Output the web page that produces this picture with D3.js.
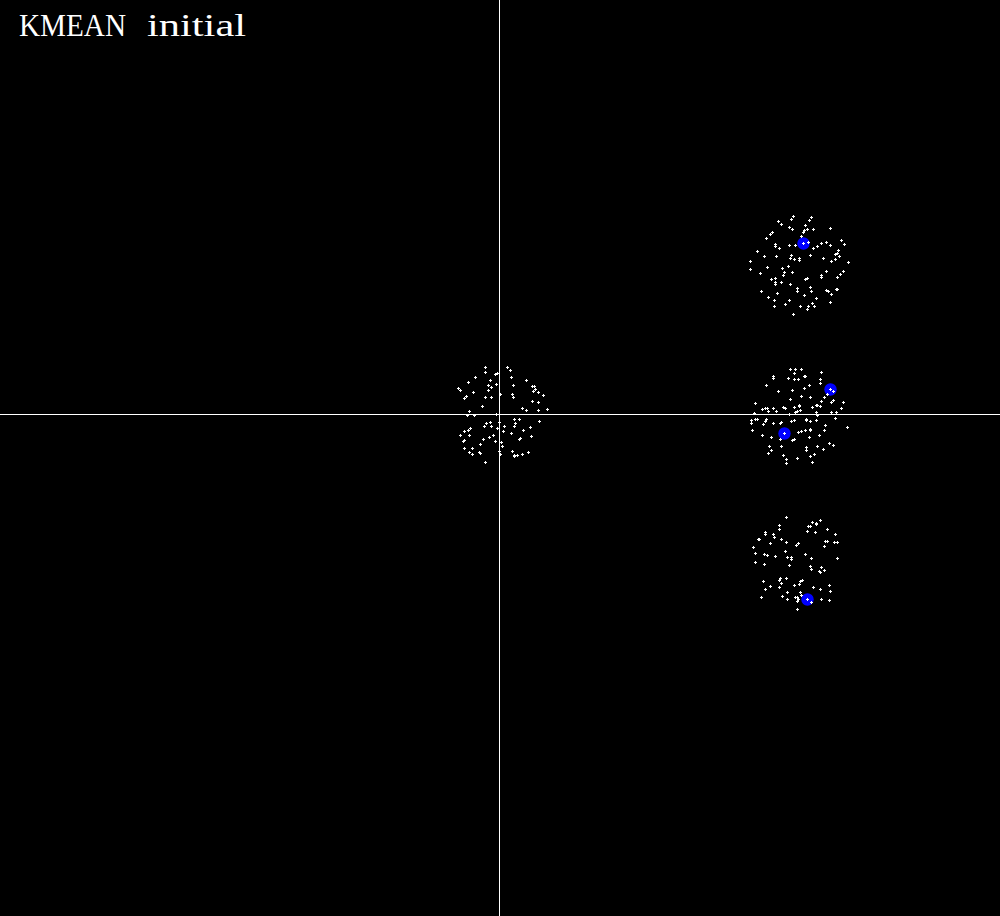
<!DOCTYPE html>
<html>
<head>
<meta charset="utf-8">
<script src="https://cdn.jsdelivr.net/npm/d3@7"></script>
<style>
html,body{margin:0;padding:0;background:#000;}
svg{display:block;}
</style>
</head>
<body>
<svg id="chart" width="1000" height="916"></svg>
<script>
// Data (units: 1 unit = 10 px in the original plot)
const clusterA = [
[-1.4,4.7],[0.8,4.7],[-1.4,4.2],[1.1,4.4],[-0.2,4.1],[-0.4,4.0],[-2.4,3.7],[1.2,3.7],[2.7,3.4],[-3.1,3.2],
[-0.9,3.4],[-1.1,2.9],[-0.3,3.0],[1.4,2.9],[3.3,2.8],[3.5,2.8],[-4.1,2.6],[-3.9,2.4],[-0.8,2.7],[-1.1,2.4],
[3.6,2.5],[3.4,2.3],[-2.6,2.2],[0.1,2.0],[1.3,2.0],[3.9,2.2],[-3.3,1.8],[-3.5,1.6],[-1.4,1.7],[-0.8,1.7],
[1.4,1.7],[4.4,1.9],[3.3,1.3],[3.9,1.2],[-1.7,0.8],[2.3,0.6],[2.7,0.4],[3.9,0.4],[4.8,0.5],[-3.0,0.3],
[-3.2,-0.1],[-2.5,-0.1],[-0.3,0.0],[1.5,-0.5],[2.0,-0.5],[4.0,-0.7],[-0.9,-0.8],[-1.3,-0.9],[1.6,-0.9],[0.0,-0.8],
[-1.5,-1.2],[-0.8,-1.2],[0.5,-1.2],[1.5,-1.2],[3.1,-1.3],[-2.9,-1.4],[-3.1,-1.6],[-0.2,-1.4],[2.4,-1.6],[-3.5,-1.7],
[0.4,-1.7],[1.2,-1.9],[-3.9,-2.1],[-3.0,-2.1],[-0.6,-2.1],[-1.0,-2.3],[3.2,-2.2],[-1.6,-2.5],[-3.5,-2.6],[-3.6,-2.7],
[2.1,-2.4],[2.0,-2.5],[-0.4,-2.7],[0.2,-2.8],[-1.9,-3.0],[0.3,-3.2],[-3.5,-3.4],[-2.7,-3.4],[-3.0,-3.8],[-2.7,-4.0],
[-2.0,-3.8],[-1.9,-3.9],[0.0,-3.7],[1.3,-3.7],[2.9,-3.8],[0.1,-4.0],[1.5,-4.1],[1.8,-4.1],[2.3,-4.0],[1.5,-4.2],
[-1.4,-4.8]
];
const clusterB = [
[29.4,19.8],[31.2,19.7],[27.9,19.3],[29.2,19.5],[31.0,19.4],[28.2,19.0],[30.6,18.9],[29.0,18.7],[29.3,18.5],[30.8,18.5],
[31.4,18.5],[33.1,18.6],[27.3,18.2],[27.1,18.0],[30.5,18.4],[30.4,18.2],[30.2,17.8],[26.7,17.6],[34.2,17.4],[34.5,17.0],
[27.6,17.0],[27.6,16.8],[28.0,16.6],[29.0,16.9],[29.6,16.9],[30.4,17.1],[30.9,17.2],[31.8,16.8],[32.2,17.1],[32.7,17.2],
[33.1,16.9],[31.4,16.6],[33.9,16.4],[25.8,16.3],[33.8,16.1],[33.6,16.0],[26.5,15.8],[27.7,15.8],[29.2,15.9],[29.1,15.6],
[29.5,15.5],[30.0,15.6],[30.0,15.4],[31.1,15.9],[34.0,15.8],[32.4,15.6],[33.6,15.5],[33.2,15.3],[34.9,15.2],[25.1,15.3],
[28.9,14.8],[26.8,14.7],[28.3,14.6],[25.1,14.5],[29.3,14.2],[28.5,14.2],[28.4,13.9],[26.1,14.1],[32.2,13.9],[32.2,13.7],
[32.7,14.3],[34.4,14.3],[34.1,14.0],[33.8,13.7],[27.2,13.5],[27.6,13.6],[30.6,13.5],[30.8,13.6],[27.6,13.2],[27.6,13.0],
[28.2,13.2],[29.1,13.0],[31.1,12.7],[29.8,12.6],[29.8,12.3],[31.2,12.3],[26.2,12.3],[27.8,12.1],[32.7,12.4],[32.9,12.3],
[33.7,12.5],[33.8,12.5],[30.5,11.9],[33.2,12.0],[26.9,11.7],[31.7,11.6],[29.0,11.4],[27.5,11.4],[33.1,11.2],[31.3,11.1],
[28.6,11.0],[30.1,10.8],[30.9,10.8],[31.5,10.8],[27.5,10.8],[30.8,10.5],[29.4,10.0]
];
const clusterC = [
[29.1,4.5],[29.6,4.5],[30.2,4.5],[29.5,4.1],[27.4,3.8],[27.4,3.6],[28.9,3.6],[29.5,3.5],[29.9,3.5],[32.2,4.2],
[32.1,3.5],[32.1,3.1],[26.7,2.9],[30.5,3.8],[30.6,3.8],[31.0,2.9],[30.5,2.6],[29.3,2.4],[27.9,2.3],[33.1,2.5],
[33.4,2.3],[32.8,2.0],[30.2,1.8],[31.1,1.7],[29.1,1.5],[32.5,1.7],[32.2,1.3],[33.4,1.4],[33.2,1.2],[34.4,1.2],
[25.6,1.1],[28.4,0.7],[28.6,0.6],[30.0,0.9],[30.0,0.8],[29.5,0.7],[31.7,0.9],[31.8,0.9],[31.3,0.7],[32.1,0.8],
[26.3,0.5],[26.6,0.6],[26.8,0.6],[26.9,0.3],[27.4,0.6],[27.7,0.3],[34.2,0.6],[25.5,0.1],[29.0,0.0],[29.6,0.2],
[29.8,0.3],[30.1,0.4],[31.7,0.2],[31.8,-0.1],[33.2,0.2],[33.7,0.2],[25.2,-0.6],[25.2,-0.9],[25.6,-0.5],[25.8,-0.5],
[26.7,-0.5],[26.6,-0.7],[26.4,-1.0],[27.4,-0.9],[28.1,-0.9],[28.2,-0.8],[29.2,-0.7],[29.5,-0.6],[30.7,-0.5],[30.7,-0.6],
[31.1,-0.7],[31.7,-0.6],[33.6,-0.4],[32.6,-1.1],[25.3,-1.6],[26.3,-2.1],[27.2,-2.3],[29.9,-1.8],[30.2,-1.7],[30.6,-1.6],
[31.1,-1.5],[31.1,-1.6],[32.5,-1.6],[32.0,-2.1],[31.0,-2.3],[34.8,-1.3],[28.1,-2.5],[28.5,-1.9],[29.3,-2.6],[29.5,-2.5],
[27.0,-3.2],[28.2,-3.2],[30.7,-3.3],[30.7,-3.6],[31.8,-3.2],[33.0,-2.9],[33.4,-3.1],[32.4,-3.5],[27.2,-3.6],[26.9,-3.9],
[28.4,-4.1],[31.1,-4.2],[31.5,-4.0],[29.8,-4.4],[28.7,-4.5],[28.7,-4.9],[31.3,-4.8]
];
const clusterD = [
[28.7,-10.3],[31.3,-10.8],[32.1,-10.6],[31.7,-10.9],[31.7,-11.0],[30.9,-11.2],[31.1,-11.2],[28.0,-11.1],[28.0,-11.5],[26.6,-11.8],
[26.6,-12.0],[32.8,-11.5],[30.8,-11.7],[31.6,-11.8],[33.6,-12.0],[27.4,-12.0],[27.5,-12.3],[26.0,-12.5],[25.9,-12.5],[28.2,-12.5],
[28.7,-12.8],[32.6,-12.7],[32.8,-12.7],[33.5,-12.8],[33.8,-12.8],[27.1,-12.9],[29.9,-12.9],[29.7,-13.1],[32.5,-13.2],[25.4,-13.3],
[28.6,-13.7],[25.6,-13.9],[26.5,-14.0],[26.8,-14.1],[27.6,-14.2],[28.8,-14.3],[29.2,-14.3],[29.2,-14.5],[30.6,-14.0],[31.2,-14.4],
[33.8,-14.4],[25.6,-14.8],[26.5,-15.0],[29.0,-15.1],[31.1,-15.2],[31.2,-15.5],[32.2,-15.3],[32.0,-15.7],[32.1,-15.8],[32.5,-15.6],
[28.7,-16.4],[28.1,-16.4],[28.0,-16.6],[28.2,-16.9],[30.3,-16.6],[30.1,-16.7],[30.0,-17.0],[29.5,-17.1],[26.4,-16.7],[27.1,-17.2],
[28.0,-17.3],[26.6,-17.5],[31.4,-17.3],[33.0,-17.1],[32.1,-17.5],[33.1,-17.7],[28.8,-17.8],[30.1,-17.8],[26.2,-18.3],[28.3,-18.2],
[29.6,-18.3],[29.8,-18.3],[30.2,-18.1],[29.9,-18.5],[29.8,-18.7],[28.8,-18.5],[32.2,-18.5],[33.0,-18.6],[31.2,-18.8],[30.8,-18.5],
[29.8,-19.5]
];
const centroids = [[30.4,17.1],[33.1,2.5],[28.5,-1.9],[30.8,-18.5]];
const titleWords = ["KMEAN","initial"];

const W = 1000, H = 916;
const svg = d3.select("#chart");
svg.append("rect").attr("width",W).attr("height",H).attr("fill","#000");

const x = d3.scaleLinear().domain([-49.9, 50.1]).range([0, W]);
const y = d3.scaleLinear().domain([41.4, -50.2]).range([0, H]);

// axes through the origin
svg.append("rect").attr("x", Math.round(x(0))).attr("y", 0).attr("width", 1).attr("height", H)
  .attr("fill", "#fff").attr("shape-rendering","crispEdges");
svg.append("rect").attr("x", 0).attr("y", Math.round(y(0))).attr("width", W).attr("height", 1)
  .attr("fill", "#fff").attr("shape-rendering","crispEdges");

// initial centroids
svg.append("g").selectAll("circle").data(centroids).join("circle")
  .attr("cx", d => Math.round(x(d[0])) + 0.5)
  .attr("cy", d => Math.round(y(d[1])) + 0.5)
  .attr("r", 6.2)
  .attr("fill", "#0000ff");

// data points as small plus signs
const pts = clusterA.concat(clusterB, clusterC, clusterD);
const g = svg.append("g").attr("fill","#fff").attr("shape-rendering","crispEdges");
const pg = g.selectAll("g.p").data(pts).join("g").attr("class","p");
pg.append("rect")
  .attr("x", d => Math.round(x(d[0])) - 1)
  .attr("y", d => Math.round(y(d[1])))
  .attr("width", 3).attr("height", 1);
pg.append("rect")
  .attr("x", d => Math.round(x(d[0])))
  .attr("y", d => Math.round(y(d[1])) - 1)
  .attr("width", 1).attr("height", 3);

// title
svg.append("text").attr("x", 19).attr("y", 36)
  .attr("font-family", "'Liberation Serif','DejaVu Serif',serif")
  .attr("font-size", 32).attr("fill", "#fff")
  .attr("textLength", 107).attr("lengthAdjust","spacingAndGlyphs")
  .text(titleWords[0]);
svg.append("text").attr("x", 147).attr("y", 36)
  .attr("font-family", "'Liberation Serif','DejaVu Serif',serif")
  .attr("font-size", 32).attr("fill", "#fff")
  .attr("textLength", 99).attr("lengthAdjust","spacingAndGlyphs")
  .text(titleWords[1]);
</script>
</body>
</html>
